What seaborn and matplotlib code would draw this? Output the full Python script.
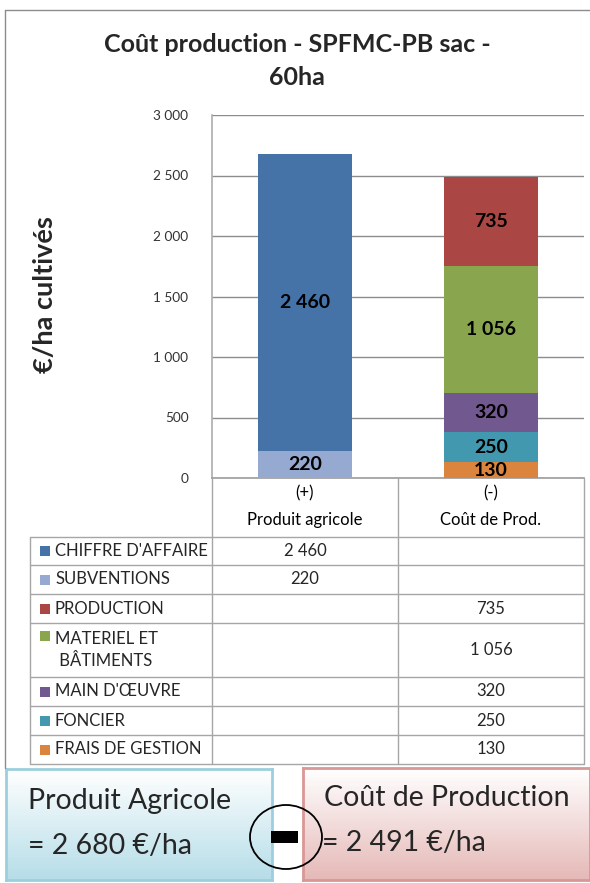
import numpy as np
import pandas as pd
import matplotlib
matplotlib.use("Agg")
import matplotlib.pyplot as plt
import seaborn as sns
from matplotlib.patches import Ellipse, Rectangle
from matplotlib.transforms import blended_transform_factory

# --- data ---
categories = ["Produit agricole", "Coût de Prod."]
signs = ["(+)", "(-)"]
series = ["CHIFFRE D'AFFAIRE", "SUBVENTIONS", "PRODUCTION", "MATERIEL ET\n BÂTIMENTS",
          "MAIN D'ŒUVRE", "FONCIER", "FRAIS DE GESTION"]
produit_vals = [2460, 220, np.nan, np.nan, np.nan, np.nan, np.nan]
cout_vals = [np.nan, np.nan, 735, 1056, 320, 250, 130]
colors = ["#4572A7", "#95A9D1", "#AA4643", "#89A54E", "#71588F", "#4198AF", "#DB843D"]
y_ticks = [0, 500, 1000, 1500, 2000, 2500, 3000]

title = "Coût production - SPFMC-PB sac -\n60ha"
ylabel = "€/ha cultivés"
box_left = ["Produit Agricole", "= 2 680 €/ha"]
box_right = ["Coût de Production", "= 2 491 €/ha"]


def fmt(v):
    return f"{v:,.0f}".replace(",", " ")


sns.set_theme(style="white")
plt.rcParams["font.family"] = ["Lato", "DejaVu Sans"]

W, H = 590, 883
fig = plt.figure(figsize=(W / 100, H / 100), dpi=100)


def px(x):
    return x / W


def py(y):
    return 1 - y / H


ax_l, ax_r, ax_t, ax_b = 212, 584, 115, 478
ax = fig.add_axes([px(ax_l), py(ax_b), px(ax_r - ax_l), (ax_b - ax_t) / H])

# stacked bars: bottom of the stack is the last series in the table
df = pd.DataFrame({"serie": series, categories[0]: produit_vals, categories[1]: cout_vals})
stack = df.iloc[::-1].fillna(0)
cum = stack[categories].cumsum()
# draw the tallest cumulative layer first, lower layers on top of it
for i in reversed(range(len(stack))):
    idx = stack.index[i]
    layer = pd.DataFrame({"cat": categories, "val": cum.loc[idx, categories].values})
    sns.barplot(data=layer, x="cat", y="val", order=categories, color=colors[idx],
                saturation=1, width=0.51, linewidth=0, ax=ax, zorder=3)

# data labels
for idx in stack.index:
    for j, c in enumerate(categories):
        v = df.loc[idx, c]
        if np.isnan(v):
            continue
        top = cum.loc[idx, c]
        ax.text(j, top - v / 2, fmt(v), ha="center", va="center",
                fontsize=14, fontweight="bold", color="black", zorder=5)

ax.set_ylim(0, 3000)
ax.set_xlim(-0.5, 1.5)
ax.set_yticks(y_ticks)
ax.set_yticklabels([fmt(t) for t in y_ticks], fontsize=9.8, color="#333333")
ax.set_xticks(range(len(categories)))
ax.set_xticklabels([f"{s}\n{c}" for s, c in zip(signs, categories)],
                   fontsize=12, linespacing=1.85, color="black")
ax.tick_params(axis="both", length=0)
ax.tick_params(axis="y", pad=17)
ax.tick_params(axis="x", pad=5)
ax.set_xlabel("")
ax.set_ylabel("")
ax.yaxis.grid(True, color="#8c8c8c", linewidth=1, zorder=0)
ax.set_axisbelow(True)
for s in ["top", "right"]:
    ax.spines[s].set_visible(False)
ax.spines["left"].set_color("#b0b0b0")
ax.spines["bottom"].set_color("#a0a0a0")

fig.text(px(297), py(61), title, ha="center", va="center", fontsize=18,
         fontweight="bold", linespacing=1.5)
fig.text(px(45), py(295), ylabel, ha="center", va="center", rotation=90,
         fontsize=19.5, fontweight="bold")

# outer chart frame
fig.add_artist(plt.Line2D([px(5), px(5)], [py(10), py(768)], color="#8c8c8c", lw=1))
fig.add_artist(plt.Line2D([px(5), px(592)], [py(10), py(10)], color="#8c8c8c", lw=1))

# data table under the chart
line_c = "#a6a6a6"
tab_l = 30
col_x = [ax_l, (ax_l + ax_r) / 2, ax_r]
rows_y = [537, 565, 594, 623, 677, 706, 735, 764]
for x in col_x:
    fig.add_artist(plt.Line2D([px(x), px(x)], [py(ax_b), py(rows_y[-1])], color=line_c, lw=1))
fig.add_artist(plt.Line2D([px(tab_l), px(tab_l)], [py(rows_y[0]), py(rows_y[-1])], color=line_c, lw=1))
for y in rows_y:
    fig.add_artist(plt.Line2D([px(tab_l), px(ax_r)], [py(y), py(y)], color=line_c, lw=1))

trans = blended_transform_factory(ax.transData, fig.transFigure)
for k, name in enumerate(series):
    y0, y1 = rows_y[k], rows_y[k + 1]
    yc = (y0 + y1) / 2
    first = yc if "\n" not in name else y0 + 13
    fig.add_artist(Rectangle((px(40), py(first + 5)), px(10), 10 / H,
                             transform=fig.transFigure, color=colors[k], lw=0))
    fig.text(px(55), py(yc), name, ha="left", va="center", fontsize=12,
             linespacing=1.45)
    for j, c in enumerate(categories):
        v = df.loc[k, c]
        if not np.isnan(v):
            fig.text(j, py(yc), fmt(v), transform=trans, ha="center", va="center",
                     fontsize=12)


# gradient boxes at the bottom
def grad_box(x0, y0, x1, y1, c_top, c_bot, edge):
    bax = fig.add_axes([px(x0), py(y1), px(x1 - x0), (y1 - y0) / H])
    t = np.linspace(0, 1, 100)[:, None]
    a = np.array(matplotlib.colors.to_rgb(c_top))
    b = np.array(matplotlib.colors.to_rgb(c_bot))
    img = (a[None, None, :] * (1 - t[..., None]) + b[None, None, :] * t[..., None])
    bax.imshow(img, aspect="auto", extent=[0, 1, 1, 0])
    bax.set_xticks([])
    bax.set_yticks([])
    for s in bax.spines.values():
        s.set_color(edge)
        s.set_linewidth(2)
    return bax


grad_box(6, 769, 272, 880, "#ffffff", "#b6dde8", "#9ccfdd")
grad_box(303, 768, 590, 880, "#ffffff", "#e5b9b7", "#d99795")

fig.text(px(28), py(801), box_left[0], ha="left", va="center", fontsize=20.5)
fig.text(px(28), py(846), box_left[1], ha="left", va="center", fontsize=20.5)
fig.text(px(324), py(798), box_right[0], ha="left", va="center", fontsize=20.5)
fig.text(px(322), py(843), box_right[1], ha="left", va="center", fontsize=20.5)

fig.add_artist(Ellipse((px(286), py(837)), px(72), 64 / H, transform=fig.transFigure,
                       fill=False, edgecolor="black", lw=1.3, zorder=10))
fig.add_artist(Rectangle((px(271), py(843)), px(27), 12 / H, transform=fig.transFigure,
                         color="black", lw=0, zorder=10))

fig.savefig("out.png", dpi=100)
